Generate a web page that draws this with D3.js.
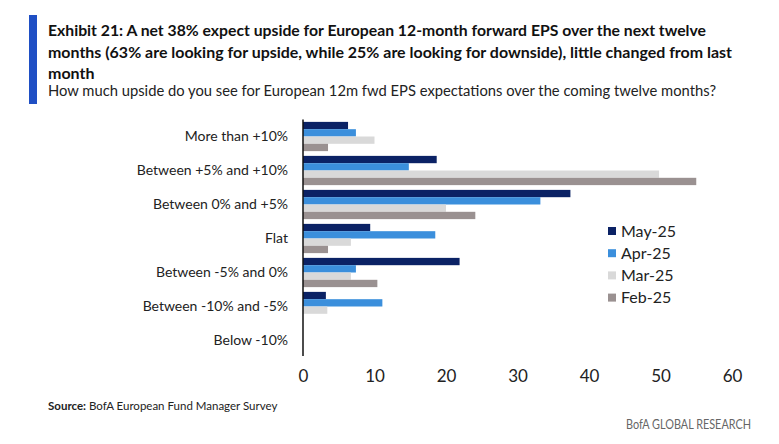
<!DOCTYPE html>
<html>
<head>
<meta charset="utf-8">
<script src="https://cdn.jsdelivr.net/npm/d3@7"></script>
<style>
  body { margin: 0; background: #fff; }
  text { font-family: "Lato", "Open Sans", sans-serif; }
</style>
</head>
<body>
<div id="chart"><svg width="779" height="444"></svg></div>
<script>
// survey answers, top to bottom
var categories = [
  "More than +10%",
  "Between +5% and +10%",
  "Between 0% and +5%",
  "Flat",
  "Between -5% and 0%",
  "Between -10% and -5%",
  "Below -10%"
];
var seriesNames = ["May-25", "Apr-25", "Mar-25", "Feb-25"];
var may25 = [6.3, 18.7, 37.4, 9.4, 21.9, 3.2, 0];
var apr25 = [7.4, 14.8, 33.2, 18.5, 7.4, 11.1, 0];
var mar25 = [10.0, 49.8, 20.0, 6.7, 6.7, 3.4, 0];
var feb25 = [3.5, 55.0, 24.1, 3.5, 10.4, 0, 0];
var xTicks = [0, 10, 20, 30, 40, 50, 60];

var colors = ["#0b2265", "#3b8fdc", "#d9d9d9", "#9a9191"];
var seriesValues = [may25, apr25, mar25, feb25];

var svg = d3.select("#chart").select("svg");

// header
svg.append("rect")
  .attr("x", 29).attr("y", 15)
  .attr("width", 8).attr("height", 89)
  .attr("fill", "#1f4fc4");

var titleLines = [
  "Exhibit 21: A net 38% expect upside for European 12-month forward EPS over the next twelve",
  "months (63% are looking for upside, while 25% are looking for downside), little changed from last",
  "month"
];
var titleWidths = [658, 684, null];
titleLines.forEach(function(t, i) {
  var el = svg.append("text")
    .attr("x", 48)
    .attr("y", 36 + i * 21.5)
    .attr("font-size", 16)
    .attr("font-weight", "bold")
    .attr("fill", "#111")
    .text(t);
  if (titleWidths[i]) el.attr("textLength", titleWidths[i]).attr("lengthAdjust", "spacingAndGlyphs");
});

svg.append("text")
  .attr("x", 48).attr("y", 96)
  .attr("font-size", 15.5)
  .attr("fill", "#222")
  .attr("textLength", 668).attr("lengthAdjust", "spacingAndGlyphs")
  .text("How much upside do you see for European 12m fwd EPS expectations over the coming twelve months?");

// chart
var x = d3.scaleLinear().domain([0, 60]).range([303, 732]);
var y = d3.scaleBand()
  .domain(categories)
  .range([119.5, 357.5])
  .paddingInner(0.14)
  .paddingOuter(0.07);
var ySub = d3.scaleBand()
  .domain(seriesNames)
  .range([0, y.bandwidth()]);

var rows = categories.map(function(c, i) {
  return seriesNames.map(function(s, j) {
    return { cat: c, series: s, value: seriesValues[j][i], color: colors[j] };
  });
});

var g = svg.append("g");
g.selectAll(".grp")
  .data(rows)
  .enter()
  .append("g")
  .attr("class", "grp")
  .attr("transform", function(d, i) { return "translate(0," + y(categories[i]) + ")"; })
  .selectAll("rect")
  .data(function(d) { return d; })
  .enter()
  .append("rect")
  .attr("x", x(0))
  .attr("y", function(d) { return ySub(d.series); })
  .attr("width", function(d) { return x(d.value) - x(0); })
  .attr("height", ySub.bandwidth())
  .attr("fill", function(d) { return d.color; });

// category labels
var yAxis = svg.append("g")
  .attr("transform", "translate(" + x(0) + ",0)")
  .call(d3.axisLeft(y).tickSize(0).tickPadding(15));
yAxis.attr("font-family", null);
yAxis.select(".domain").remove();
yAxis.selectAll("text")
  .attr("font-size", 14)
  .attr("fill", "#222");

svg.append("line")
  .attr("x1", x(0)).attr("x2", x(0))
  .attr("y1", 119.5).attr("y2", 356)
  .attr("stroke", "#111")
  .attr("stroke-width", 1.5);

// value axis, labels only
var xAxis = svg.append("g")
  .attr("transform", "translate(0,367)")
  .call(d3.axisBottom(x).tickValues(xTicks).tickSize(0).tickPadding(3));
xAxis.attr("font-family", null);
xAxis.select(".domain").remove();
xAxis.selectAll("text")
  .attr("font-size", 17)
  .attr("fill", "#222");

// legend
var legend = svg.append("g").selectAll("g")
  .data(seriesNames)
  .enter()
  .append("g")
  .attr("transform", function(d, i) { return "translate(608," + (231 + i * 22.2) + ")"; });
legend.append("rect")
  .attr("x", 0).attr("y", -4)
  .attr("width", 8).attr("height", 8)
  .attr("fill", function(d, i) { return colors[i]; });
legend.append("text")
  .attr("x", 13).attr("y", 5.5)
  .attr("font-size", 16)
  .attr("fill", "#222")
  .text(function(d) { return d; });

// footer
var src = svg.append("text")
  .attr("x", 48).attr("y", 410)
  .attr("font-size", 11.5)
  .attr("fill", "#222");
src.append("tspan").attr("font-weight", "bold").text("Source:");
src.append("tspan").text(" BofA European Fund Manager Survey");

svg.append("text")
  .attr("x", 751).attr("y", 429)
  .attr("text-anchor", "end")
  .attr("font-size", 13)
  .attr("fill", "#666")
  .attr("textLength", 125).attr("lengthAdjust", "spacingAndGlyphs")
  .text("BofA GLOBAL RESEARCH");
</script>
</body>
</html>
